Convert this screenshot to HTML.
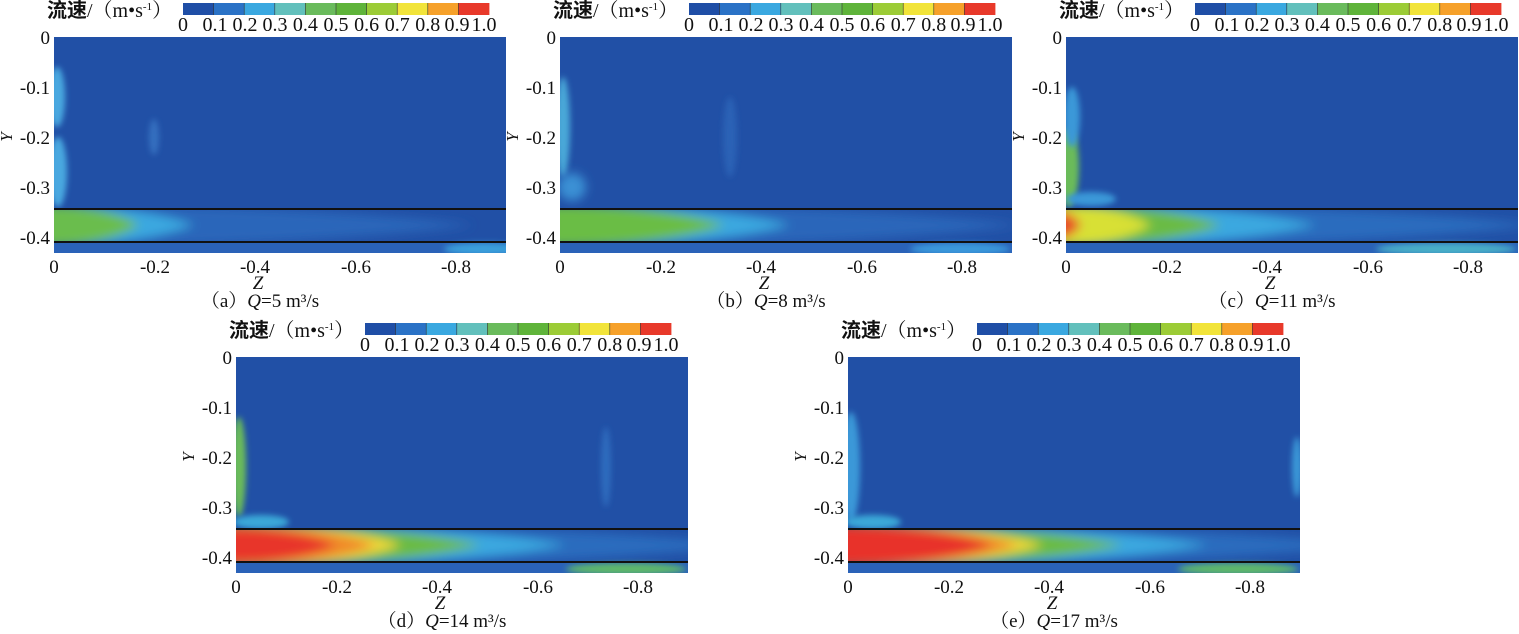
<!DOCTYPE html>
<html><head><meta charset="utf-8"><style>
html,body{margin:0;padding:0;background:#fff;}
svg{display:block;font-family:"Liberation Serif","Noto Serif CJK SC",serif;}
</style></head><body>
<svg width="1519" height="634" viewBox="0 0 1519 634" xmlns="http://www.w3.org/2000/svg">
<defs>
<filter id="b6" x="-50%" y="-50%" width="200%" height="200%"><feGaussianBlur stdDeviation="5"/></filter>
<filter id="b3" x="-50%" y="-50%" width="200%" height="200%"><feGaussianBlur stdDeviation="3"/></filter>
<clipPath id="cp"><rect x="0" y="0" width="452" height="216"/></clipPath>
<clipPath id="band"><rect x="0" y="172" width="452" height="33"/></clipPath>
<g id="frame">
  <g font-size="19" fill="#111">
    <text x="-4" y="7" text-anchor="end">0</text>
    <text x="-4" y="57" text-anchor="end">-0.1</text>
    <text x="-4" y="107" text-anchor="end">-0.2</text>
    <text x="-4" y="157" text-anchor="end">-0.3</text>
    <text x="-4" y="207" text-anchor="end">-0.4</text>
    <text x="0" y="236" text-anchor="middle">0</text>
    <text x="101" y="236" text-anchor="middle">-0.2</text>
    <text x="201" y="236" text-anchor="middle">-0.4</text>
    <text x="302" y="236" text-anchor="middle">-0.6</text>
    <text x="402" y="236" text-anchor="middle">-0.8</text>
    <text x="204" y="252" text-anchor="middle" font-style="italic">Z</text>
    <text transform="translate(-42,100) rotate(-90)" text-anchor="middle" font-style="italic" font-size="17">Y</text>
  </g>
  <g transform="translate(129,-34)">
    <rect x="0" y="0" width="31" height="12" fill="#1f4ea6"/>
    <rect x="30.6" y="0" width="31" height="12" fill="#2a72c6"/>
    <rect x="61.2" y="0" width="31" height="12" fill="#3aa8e0"/>
    <rect x="91.8" y="0" width="31" height="12" fill="#62c0bc"/>
    <rect x="122.4" y="0" width="31" height="12" fill="#6abb5c"/>
    <rect x="153" y="0" width="31" height="12" fill="#5fb43a"/>
    <rect x="183.6" y="0" width="31" height="12" fill="#9ccc36"/>
    <rect x="214.2" y="0" width="31" height="12" fill="#f2e43a"/>
    <rect x="244.8" y="0" width="31" height="12" fill="#f6a12a"/>
    <rect x="275.4" y="0" width="31" height="12" fill="#e8392a"/>
    <g stroke="#333" stroke-width="0.6">
      <line x1="30.6" y1="0" x2="30.6" y2="12"/><line x1="61.2" y1="0" x2="61.2" y2="12"/><line x1="91.8" y1="0" x2="91.8" y2="12"/><line x1="122.4" y1="0" x2="122.4" y2="12"/><line x1="153" y1="0" x2="153" y2="12"/><line x1="183.6" y1="0" x2="183.6" y2="12"/><line x1="214.2" y1="0" x2="214.2" y2="12"/><line x1="244.8" y1="0" x2="244.8" y2="12"/><line x1="275.4" y1="0" x2="275.4" y2="12"/>
    </g>
    <g font-size="20" fill="#111" text-anchor="middle">
      <text x="0" y="28">0</text><text x="32" y="28">0.1</text><text x="62" y="28">0.2</text><text x="92" y="28">0.3</text><text x="122.4" y="28">0.4</text><text x="153" y="28">0.5</text><text x="183.6" y="28">0.6</text><text x="214.2" y="28">0.7</text><text x="244.8" y="28">0.8</text><text x="274" y="28">0.9</text><text x="301" y="28">1.0</text>
    </g>
  </g>
  <text x="-7" y="-20" font-size="20" fill="#111"><tspan font-family="Noto Sans CJK SC, sans-serif" font-weight="bold">流速</tspan>/（m•s<tspan font-size="11" dy="-7">-1</tspan><tspan dy="7">）</tspan></text>
</g>
</defs>

<!-- Panel a -->
<g transform="translate(54,37)">
  <g clip-path="url(#cp)">
    <rect width="452" height="216" fill="#2150a6"/>
    <ellipse cx="3" cy="60" rx="8" ry="30" fill="#48a8e0" filter="url(#b3)"/>
    <ellipse cx="4" cy="135" rx="9" ry="35" fill="#48a8e0" filter="url(#b3)"/>
    <ellipse cx="100" cy="100" rx="5" ry="18" fill="#3570c0" filter="url(#b3)"/>
    <rect y="205" width="452" height="11" fill="#2a62b8"/>
    <ellipse cx="430" cy="212" rx="40" ry="6" fill="#3aa0dc" filter="url(#b3)"/>
    <g clip-path="url(#band)" filter="url(#b6)">
      <path d="M-10,168 Q250,168 420,188 Q250,209 -10,209Z" fill="#2a66ba"/>
      <path d="M-10,168 Q80,168 140,188 Q80,209 -10,209Z" fill="#3aa8e0"/>
      <path d="M-10,168 Q50,168 85,188 Q50,209 -10,209Z" fill="#6bbd4e"/>
    </g>
  </g>
  <line x1="0" y1="172" x2="452" y2="172" stroke="#111" stroke-width="2"/>
  <line x1="0" y1="205" x2="452" y2="205" stroke="#111" stroke-width="2"/>
  <use href="#frame"/>
  <text x="206" y="270" font-size="19" text-anchor="middle" fill="#111">（a）<tspan font-style="italic">Q</tspan>=5 m³/s</text>
</g>

<!-- Panel b -->
<g transform="translate(560,37)">
  <g clip-path="url(#cp)">
    <rect width="452" height="216" fill="#2150a6"/>
    <ellipse cx="3" cy="90" rx="7" ry="50" fill="#4aa8d8" filter="url(#b3)"/>
    <ellipse cx="12" cy="150" rx="14" ry="14" fill="#3a90d4" filter="url(#b6)"/>
    <ellipse cx="170" cy="100" rx="7" ry="40" fill="#2c62b6" filter="url(#b3)"/>
    <rect y="205" width="452" height="11" fill="#2a62b8"/>
    <ellipse cx="400" cy="212" rx="50" ry="6" fill="#3a9adc" filter="url(#b3)"/>
    <g clip-path="url(#band)" filter="url(#b6)">
      <path d="M-10,168 Q300,168 460,188 Q300,209 -10,209Z" fill="#2a66ba"/>
      <path d="M-10,168 Q150,168 230,188 Q150,209 -10,209Z" fill="#3aa8e0"/>
      <path d="M-10,168 Q100,168 165,188 Q100,209 -10,209Z" fill="#6bbd44"/>
    </g>
  </g>
  <line x1="0" y1="172" x2="452" y2="172" stroke="#111" stroke-width="2"/>
  <line x1="0" y1="205" x2="452" y2="205" stroke="#111" stroke-width="2"/>
  <use href="#frame"/>
  <text x="206" y="270" font-size="19" text-anchor="middle" fill="#111">（b）<tspan font-style="italic">Q</tspan>=8 m³/s</text>
</g>

<!-- Panel c -->
<g transform="translate(1066,37)">
  <g clip-path="url(#cp)">
    <rect width="452" height="216" fill="#2150a6"/>
    <ellipse cx="3" cy="130" rx="10" ry="40" fill="#6abb5a" filter="url(#b3)"/>
    <ellipse cx="6" cy="80" rx="8" ry="30" fill="#3a98d8" filter="url(#b3)"/>
    <ellipse cx="25" cy="162" rx="25" ry="7" fill="#3a98d8" filter="url(#b3)"/>
    <rect y="205" width="452" height="11" fill="#2a62b8"/>
    <ellipse cx="380" cy="212" rx="70" ry="6" fill="#4ab0c8" filter="url(#b3)"/>
    <g clip-path="url(#band)" filter="url(#b6)">
      <path d="M-10,168 Q300,168 470,188 Q300,209 -10,209Z" fill="#2a6cbe"/>
      <path d="M-10,168 Q160,168 250,188 Q160,209 -10,209Z" fill="#3aa8e0"/>
      <path d="M-10,168 Q100,168 155,188 Q100,209 -10,209Z" fill="#6abb44"/>
      <path d="M-10,168 Q50,168 85,188 Q50,209 -10,209Z" fill="#d8e036"/>
      <path d="M-10,174 Q5,174 15,188 Q5,202 -10,202Z" fill="#e8502a"/>
    </g>
  </g>
  <line x1="0" y1="172" x2="452" y2="172" stroke="#111" stroke-width="2"/>
  <line x1="0" y1="205" x2="452" y2="205" stroke="#111" stroke-width="2"/>
  <use href="#frame"/>
  <text x="206" y="270" font-size="19" text-anchor="middle" fill="#111">（c）<tspan font-style="italic">Q</tspan>=11 m³/s</text>
</g>

<!-- Panel d -->
<g transform="translate(236,357)">
  <g clip-path="url(#cp)">
    <rect width="452" height="216" fill="#2150a6"/>
    <ellipse cx="3" cy="110" rx="7" ry="50" fill="#6abb5a" filter="url(#b3)"/>
    <ellipse cx="25" cy="165" rx="28" ry="7" fill="#3aa8d8" filter="url(#b3)"/>
    <ellipse cx="370" cy="110" rx="5" ry="40" fill="#2e6cbe" filter="url(#b3)"/>
    <rect y="205" width="452" height="11" fill="#2a62b8"/>
    <ellipse cx="390" cy="212" rx="60" ry="6" fill="#5fb86a" filter="url(#b3)"/>
    <g clip-path="url(#band)" filter="url(#b6)">
      <path d="M-10,168 Q350,168 500,188 Q350,209 -10,209Z" fill="#2a6cbe"/>
      <path d="M-10,168 Q220,168 330,188 Q220,209 -10,209Z" fill="#3aa8e0"/>
      <path d="M-10,168 Q160,168 245,188 Q160,209 -10,209Z" fill="#6abb44"/>
      <path d="M-10,168 Q110,168 165,188 Q110,209 -10,209Z" fill="#f0d83a"/>
      <path d="M-10,169 Q90,169 140,188 Q90,208 -10,208Z" fill="#f08a2a"/>
      <path d="M-10,171 Q60,171 100,188 Q60,206 -10,206Z" fill="#e8342a"/>
    </g>
  </g>
  <line x1="0" y1="172" x2="452" y2="172" stroke="#111" stroke-width="2"/>
  <line x1="0" y1="205" x2="452" y2="205" stroke="#111" stroke-width="2"/>
  <use href="#frame"/>
  <text x="206" y="270" font-size="19" text-anchor="middle" fill="#111">（d）<tspan font-style="italic">Q</tspan>=14 m³/s</text>
</g>

<!-- Panel e -->
<g transform="translate(848,357)">
  <g clip-path="url(#cp)">
    <rect width="452" height="216" fill="#2150a6"/>
    <ellipse cx="3" cy="110" rx="9" ry="55" fill="#3a98d8" filter="url(#b3)"/>
    <ellipse cx="25" cy="165" rx="28" ry="7" fill="#3aa8d8" filter="url(#b3)"/>
    <ellipse cx="449" cy="110" rx="5" ry="30" fill="#3a98d8" filter="url(#b3)"/>
    <rect y="205" width="452" height="11" fill="#2a62b8"/>
    <ellipse cx="390" cy="212" rx="60" ry="6" fill="#5fb86a" filter="url(#b3)"/>
    <g clip-path="url(#band)" filter="url(#b6)">
      <path d="M-10,168 Q350,168 510,188 Q350,209 -10,209Z" fill="#2a6cbe"/>
      <path d="M-10,168 Q240,168 360,188 Q240,209 -10,209Z" fill="#3aa8e0"/>
      <path d="M-10,168 Q180,168 275,188 Q180,209 -10,209Z" fill="#6abb44"/>
      <path d="M-10,168 Q130,168 195,188 Q130,209 -10,209Z" fill="#f0d83a"/>
      <path d="M-10,168 Q110,168 170,188 Q110,209 -10,209Z" fill="#f08a2a"/>
      <path d="M-10,169 Q90,169 145,188 Q90,208 -10,208Z" fill="#e8302a"/>
    </g>
  </g>
  <line x1="0" y1="172" x2="452" y2="172" stroke="#111" stroke-width="2"/>
  <line x1="0" y1="205" x2="452" y2="205" stroke="#111" stroke-width="2"/>
  <use href="#frame"/>
  <text x="206" y="270" font-size="19" text-anchor="middle" fill="#111">（e）<tspan font-style="italic">Q</tspan>=17 m³/s</text>
</g>
</svg>
</body></html>
